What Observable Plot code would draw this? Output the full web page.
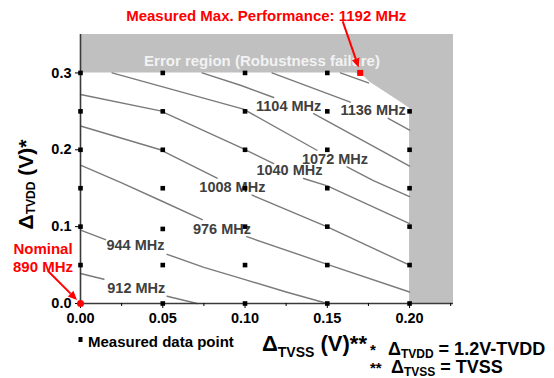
<!DOCTYPE html>
<html><head><meta charset="utf-8">
<script src="https://cdn.jsdelivr.net/npm/d3@7"></script>
<script src="https://cdn.jsdelivr.net/npm/@observablehq/plot@0.6"></script>
<style>
html,body{margin:0;padding:0;background:#fff;}
#chart{position:relative;width:554px;height:378px;}
#chart svg{font-family:"Liberation Sans",Arial,sans-serif;}
</style></head><body><div id="chart"></div>
<script>
// ---- axes ----
const xTicks = [0, 0.05, 0.10, 0.15, 0.20];
const xMinorTicks = [0.025, 0.075, 0.125, 0.175, 0.225];
const yTicks = [0, 0.1, 0.2, 0.3];
const xMax = 0.2267;
const yMax = 0.35;

// ---- measured data points (ΔTVSS, ΔTVDD) ----
const measuredPoints = [
  [0,0.05],[0,0.1],[0,0.15],[0,0.2],[0,0.25],[0,0.3],
  [0.05,0],[0.05,0.05],[0.05,0.097],[0.05,0.15],[0.05,0.2],[0.05,0.25],[0.05,0.3],
  [0.1,0],[0.1,0.05],[0.1,0.1],[0.1,0.15],[0.1,0.2],[0.1,0.25],[0.1,0.3],
  [0.15,0],[0.15,0.05],[0.15,0.1],[0.15,0.15],[0.15,0.2],[0.15,0.25],[0.15,0.3],
  [0.2,0],[0.2,0.05],[0.2,0.1],[0.2,0.15],[0.2,0.2],[0.2,0.25]
];
const nominalPoint = [0, 0];
const nominalLabel = "Nominal\n890 MHz";
const maxPoint = [0.17, 0.3];
const maxLabel = "Measured Max. Performance: 1192 MHz";

// ---- error region lower boundary ----
const errorBoundary = [[0,0.3],[0.167,0.3],[0.172,0.296],[0.176,0.288],[0.193,0.264],[0.2,0.254],[0.2,0],[xMax,0]];
const errorLabel = "Error region (Robustness failure)";

// ---- contour lines (segments split where labels sit) ----
const contour912  = [[[0,0.039],[0.0142,0.0316]], [[0.0526,0.0095],[0.0709,0]]];
const contour944  = [[[0,0.0954],[0.0152,0.083]], [[0.0526,0.064],[0.075,0.047],[0.1,0.031],[0.125,0.015],[0.15,0]]];
const contour976  = [[[0,0.18],[0.025,0.157],[0.0486,0.134],[0.074,0.109]], [[0.101,0.087],[0.15,0.051],[0.2,0.015]]];
const contour1008 = [[[0,0.231],[0.0486,0.2],[0.083,0.163]], [[0.1043,0.141],[0.15,0.0997],[0.2,0.0498]]];
const contour1040 = [[[0,0.272],[0.0486,0.2506],[0.0972,0.203],[0.1174,0.182]], [[0.1356,0.1626],[0.15,0.153],[0.2,0.104]]];
const contour1072 = [[[0.0192,0.3],[0.099,0.253],[0.1437,0.1994]], [[0.162,0.1777],[0.178,0.16],[0.2,0.139]]];
const contour1104 = [[[0.0739,0.3],[0.0972,0.284],[0.1174,0.268]], [[0.1417,0.247],[0.2,0.1786]]];
const contour1136 = [[[0.1164,0.3],[0.164,0.262]], [[0.187,0.241],[0.2,0.2255]]];
const contour1168 = [[[0.158,0.3],[0.175,0.287]]];

const labelLevels = [912, 944, 976, 1008, 1040, 1072, 1104, 1136];
const labelX = [0.0339, 0.0334, 0.086, 0.0923, 0.127, 0.1547, 0.1265, 0.1778];
const labelY = [0.0203, 0.075, 0.097, 0.1517, 0.1734, 0.1877, 0.2567, 0.2515];

// ---- build tables ----
const contours = {912:contour912,944:contour944,976:contour976,1008:contour1008,1040:contour1040,1072:contour1072,1104:contour1104,1136:contour1136,1168:contour1168};
const contourRows = [];
Object.entries(contours).forEach(([level, segs]) => segs.forEach((seg, i) => seg.forEach(([x, y]) => contourRows.push({seg: level + "-" + i, x, y}))));
const labelRows = labelLevels.map((l, i) => ({text: l + " MHz", x: labelX[i], y: labelY[i]}));
const pointRows = measuredPoints.map(([x, y]) => ({x, y}));
const errorRows = errorBoundary.map(([x, y]) => ({x, y}));

const chart = Plot.plot({
  width: 554, height: 378,
  marginLeft: 80, marginRight: 101, marginTop: 34, marginBottom: 75,
  x: {domain: [0, xMax], label: null},
  y: {domain: [0, yMax], label: null},
  style: {fontFamily: '"Liberation Sans", Arial, sans-serif', fontSize: "14.5px", fontWeight: "bold", color: "#000", background: "#fff"},
  marks: [
    Plot.areaY(errorRows, {x: "x", y1: "y", y2: () => yMax, fill: "#c0c0c0", curve: "linear"}),
    Plot.text([errorLabel], {frameAnchor: "top", dx: -5, dy: 21, fill: "#f2f2f2", fontSize: 15, fontWeight: "bold"}),
    Plot.line(contourRows, {x: "x", y: "y", z: "seg", stroke: "#7a7a7a", strokeWidth: 1.4}),
    Plot.text(labelRows, {x: "x", y: "y", text: "text", fill: "#404040", fontSize: 14.5, fontWeight: "bold"}),
    Plot.ruleY([0], {stroke: "#3a3a3a", strokeWidth: 1.6}),
    Plot.ruleX([0], {stroke: "#3a3a3a", strokeWidth: 1.6}),
    Plot.axisX(xTicks, {tickFormat: d3.format(".2f"), tickSize: 5, tickPadding: 4, label: null, fontSize: 14.5, fontWeight: "bold"}),
    Plot.axisX(xMinorTicks, {tickFormat: () => "", tickSize: 3, label: null}),
    Plot.axisY(yTicks, {tickFormat: d3.format(".1f"), tickSize: 5, tickPadding: 4, label: null, fontSize: 14.5, fontWeight: "bold"}),
    Plot.dot(pointRows, {x: "x", y: "y", symbol: "square", r: 2.6, fill: "#000", strokeWidth: 0}),
    Plot.dot([maxPoint], {x: d => d[0], y: d => d[1], symbol: "square", r: 3.4, fill: "#ff0000", strokeWidth: 0}),
    Plot.dot([nominalPoint], {x: d => d[0], y: d => d[1], r: 3.5, fill: "#ff0000", strokeWidth: 0}),
    Plot.text([maxPoint], {x: d => d[0], y: d => d[1], text: () => maxLabel, dx: -94, dy: -57, fill: "#ff0000", fontSize: 15, fontWeight: "bold"}),
    Plot.text([nominalPoint], {x: d => d[0], y: d => d[1], text: () => nominalLabel, dx: -37.5, dy: -46, lineHeight: 1.2, fill: "#ff0000", fontSize: 15, fontWeight: "bold"})
  ]
});

// ---- annotations added using the plot's own scales ----
const xs = chart.scale("x"), ys = chart.scale("y");
const fx = xs.apply ? xs.apply : d3.scaleLinear(xs.domain, xs.range);
const fy = ys.apply ? ys.apply : d3.scaleLinear(ys.domain, ys.range);
const svg = d3.select(chart);
const g = svg.append("g").attr("text-anchor", "start");

function arrow(px, py, sdx, sdy, tdx, tdy) {
  const x1 = px + sdx, y1 = py + sdy, x2 = px + tdx, y2 = py + tdy;
  const a = Math.atan2(y2 - y1, x2 - x1), hl = 9, hw = 4;
  const bx = x2 - hl * Math.cos(a), by = y2 - hl * Math.sin(a);
  g.append("line").attr("x1", x1).attr("y1", y1).attr("x2", bx).attr("y2", by).attr("stroke", "#ff0000").attr("stroke-width", 2);
  g.append("path").attr("fill", "#ff0000")
    .attr("d", `M${x2},${y2}L${bx + hw * Math.sin(a)},${by - hw * Math.cos(a)}L${bx - hw * Math.sin(a)},${by + hw * Math.cos(a)}Z`);
}
arrow(fx(nominalPoint[0]), fy(nominalPoint[1]), -32, -32, -3, -3);
arrow(fx(maxPoint[0]), fy(maxPoint[1]), -17, -51, -1, -5);

const x0 = fx(0), yBase = fy(0);
// y axis title
const yt = g.append("text").attr("transform", `translate(33,${(fy(0) + fy(yMax)) / 2 + 16}) rotate(-90)`)
  .attr("text-anchor", "middle").attr("font-weight", "bold").attr("font-size", 21).attr("fill", "#000");
yt.append("tspan").text("Δ");
yt.append("tspan").attr("font-size", 12).attr("dy", 2).text("TVDD");
yt.append("tspan").attr("dy", -2).text(" (V)*");

// x axis title
const xt = g.append("text").attr("text-anchor", "start").attr("x", 262).attr("y", yBase + 48).attr("font-weight", "bold").attr("font-size", 22).attr("fill", "#000");
xt.append("tspan").text("Δ");
xt.append("tspan").attr("font-size", 14).attr("dy", 6).text("TVSS");
xt.append("tspan").attr("dy", -6).text(" (V)**");

// legend for measured points
g.append("rect").attr("x", x0 - 1.5).attr("y", yBase + 34).attr("width", 4).attr("height", 5).attr("fill", "#000");
g.append("text").attr("text-anchor", "start").attr("x", x0 + 8).attr("y", yBase + 44).attr("font-weight", "bold").attr("font-size", 15).attr("fill", "#000").text("Measured data point");

// footnotes
function footnote(star, sub, rest, y, dxDelta) {
  const t = g.append("text").attr("text-anchor", "start").attr("y", y).attr("font-weight", "bold").attr("font-size", 18).attr("fill", "#000");
  t.append("tspan").attr("x", 370).attr("font-size", 15).text(star);
  t.append("tspan").attr("x", dxDelta).text("Δ");
  t.append("tspan").attr("font-size", 12).attr("dy", 3).text(sub);
  t.append("tspan").attr("dy", -3).text(" = " + rest);
}
footnote("*", "TVDD", "1.2V-TVDD", yBase + 52, 388);
footnote("**", "TVSS", "TVSS", yBase + 70, 391);

document.getElementById("chart").appendChild(chart);
</script></body></html>
